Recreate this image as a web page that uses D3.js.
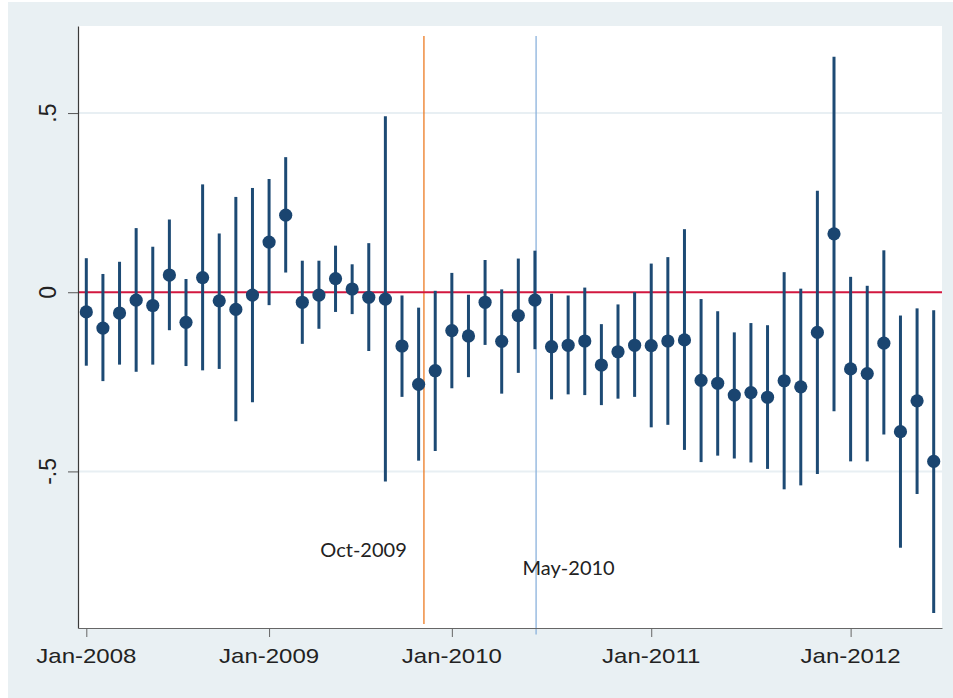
<!DOCTYPE html>
<html>
<head>
<meta charset="utf-8">
<script src="https://cdn.jsdelivr.net/npm/d3@7"></script>
<style>
  html, body { margin: 0; padding: 0; background: #ffffff; }
  svg { display: block; }
</style>
</head>
<body>
<svg id="chart" width="953" height="698"></svg>
<script>
// Monthly point estimates with confidence intervals
const estimate = [-0.055, -0.100, -0.058, -0.022, -0.037, 0.048, -0.084, 0.041, -0.024, -0.048,
  -0.008, 0.140, 0.215, -0.028, -0.008, 0.038, 0.009, -0.014, -0.019, -0.150,
  -0.257, -0.219, -0.107, -0.122, -0.028, -0.137, -0.065, -0.022, -0.152, -0.148,
  -0.136, -0.203, -0.166, -0.148, -0.149, -0.136, -0.133, -0.246, -0.254, -0.287,
  -0.280, -0.293, -0.247, -0.264, -0.112, 0.163, -0.214, -0.227, -0.142, -0.389,
  -0.303, -0.472];
const lower = [-0.205, -0.248, -0.202, -0.222, -0.202, -0.106, -0.206, -0.218, -0.214, -0.360,
  -0.307, -0.036, 0.055, -0.144, -0.102, -0.055, -0.061, -0.164, -0.528, -0.292,
  -0.470, -0.443, -0.268, -0.237, -0.147, -0.283, -0.225, -0.159, -0.299, -0.285,
  -0.287, -0.315, -0.297, -0.292, -0.377, -0.370, -0.440, -0.474, -0.456, -0.464,
  -0.475, -0.493, -0.550, -0.539, -0.507, -0.332, -0.472, -0.472, -0.397, -0.713,
  -0.563, -0.895];
const upper = [0.095, 0.051, 0.085, 0.179, 0.127, 0.203, 0.037, 0.301, 0.164, 0.266,
  0.291, 0.316, 0.377, 0.088, 0.088, 0.130, 0.078, 0.137, 0.491, -0.009,
  -0.043, 0.004, 0.054, -0.007, 0.090, 0.008, 0.094, 0.116, -0.004, -0.009,
  0.013, -0.089, -0.034, 0.000, 0.080, 0.098, 0.176, -0.019, -0.053, -0.112,
  -0.086, -0.092, 0.056, 0.010, 0.283, 0.657, 0.043, 0.018, 0.117, -0.065,
  -0.045, -0.050];

// x-axis ticks (period index) and their labels
const xTickPos = [0, 11, 22, 34, 46];
const xTickLabels = ["Jan-2008", "Jan-2009", "Jan-2010", "Jan-2011", "Jan-2012"];

// y-axis ticks
const yTicks = [-0.5, 0, 0.5];
const yTickLabels = ["-.5", "0", ".5"];

// marked events: position on the period axis and label
const eventPos = [20.32, 27.07];
const eventLabels = ["Oct-2009", "May-2010"];

const W = 953, H = 698;
const plot = { left: 78, right: 942, top: 26, bottom: 628 };

const svg = d3.select("#chart");

// outer background and plot region
svg.append("rect").attr("x", 8).attr("y", 2).attr("width", W - 8).attr("height", H - 2)
  .attr("fill", "#e9f0f3");
svg.append("rect").attr("x", plot.left).attr("y", plot.top)
  .attr("width", plot.right - plot.left).attr("height", plot.bottom - plot.top)
  .attr("fill", "#ffffff");

const x = d3.scaleLinear().domain([-0.5, estimate.length - 0.5]).range([plot.left, plot.right]);
const y = d3.scaleLinear().domain([-0.937, 0.743]).range([plot.bottom, plot.top]);

// horizontal grid lines
svg.append("g").selectAll("line").data(yTicks.filter(v => v !== 0)).join("line")
  .attr("x1", plot.left).attr("x2", plot.right)
  .attr("y1", d => y(d)).attr("y2", d => y(d))
  .attr("stroke", "#e8eff3").attr("stroke-width", 2);

// event markers
const eventColors = ["#ec7a22", "#8ab2dc"];
const eventEnds = [-0.926, -0.955];
svg.append("g").selectAll("line").data(eventPos).join("line")
  .attr("x1", d => x(d)).attr("x2", d => x(d))
  .attr("y1", y(0.715)).attr("y2", (d, i) => y(eventEnds[i]))
  .attr("stroke", (d, i) => eventColors[i]).attr("stroke-width", 1.3);

// zero reference line
svg.append("line")
  .attr("x1", plot.left).attr("x2", plot.right)
  .attr("y1", y(0)).attr("y2", y(0))
  .attr("stroke", "#d2173f").attr("stroke-width", 2.2);

// confidence intervals
svg.append("g").selectAll("line").data(estimate).join("line")
  .attr("x1", (d, i) => x(i)).attr("x2", (d, i) => x(i))
  .attr("y1", (d, i) => y(upper[i])).attr("y2", (d, i) => y(lower[i]))
  .attr("stroke", "#1d4a74").attr("stroke-width", 3);

// point estimates
svg.append("g").selectAll("circle").data(estimate).join("circle")
  .attr("cx", (d, i) => x(i)).attr("cy", d => y(d))
  .attr("r", 6.6).attr("fill", "#1a4570");

// y axis
const yAxis = svg.append("g").attr("transform", `translate(${plot.left},0)`)
  .call(d3.axisLeft(y).tickValues(yTicks).tickSize(10).tickSizeOuter(0).tickFormat(""));
yAxis.select(".domain").attr("stroke", "#3a3a3a").attr("stroke-width", 1.2);
yAxis.selectAll(".tick line").attr("stroke", "#555").attr("stroke-width", 1);
svg.append("g").selectAll("text").data(yTicks).join("text")
  .attr("transform", d => `translate(56,${y(d)}) rotate(-90)`)
  .attr("text-anchor", "middle")
  .attr("font-family", "'Liberation Sans', Arial, sans-serif")
  .attr("font-size", 23).attr("fill", "#222")
  .text((d, i) => yTickLabels[i]);

// x axis
const xAxis = svg.append("g").attr("transform", `translate(0,${plot.bottom})`)
  .call(d3.axisBottom(x).tickValues(xTickPos).tickSize(9).tickSizeOuter(0).tickFormat(""));
xAxis.select(".domain").attr("stroke", "#666").attr("stroke-width", 1.2);
xAxis.selectAll(".tick line").attr("stroke", "#666").attr("stroke-width", 1);
svg.append("g").selectAll("text").data(xTickPos).join("text")
  .attr("transform", d => `translate(${x(d)},663) scale(1.2,1)`)
  .attr("text-anchor", "middle")
  .attr("font-family", "'Liberation Sans', Arial, sans-serif")
  .attr("font-size", 20).attr("fill", "#222")
  .text((d, i) => xTickLabels[i]);

// event annotations
const eventLabelPos = [{ dx: -103.6, y: 556.5 }, { dx: -13.5, y: 575 }];
svg.append("g").selectAll("text").data(eventPos).join("text")
  .attr("x", (d, i) => x(d) + eventLabelPos[i].dx)
  .attr("y", (d, i) => eventLabelPos[i].y)
  .attr("font-family", "Lato, 'Open Sans', sans-serif")
  .attr("font-size", 20).attr("fill", "#222")
  .text((d, i) => eventLabels[i]);
</script>
</body>
</html>
